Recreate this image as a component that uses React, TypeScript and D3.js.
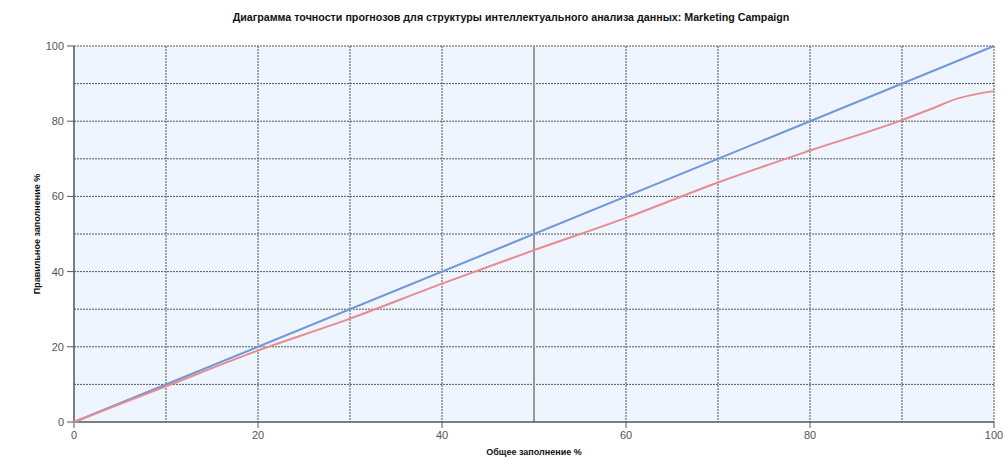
import React from "react";
import * as d3 from "d3";

const idealX = [0, 100];
const idealY = [0, 100];
const modelX = [0, 10, 20, 30, 40, 50, 60, 70, 80, 90, 93, 96, 100];
const modelY = [0, 9.5, 19, 27.5, 36.8, 45.7, 54.3, 63.7, 72.2, 80.3, 83.1, 86, 88];
const gridValues = [10, 20, 30, 40, 50, 60, 70, 80, 90, 100];
const tickValues = [0, 20, 40, 60, 80, 100];

const W = 1003, H = 459;
const L = 74, R = 994, T = 46, B = 422;

export default function App() {
  const x = d3.scaleLinear().domain([0, 100]).range([L, R]);
  const y = d3.scaleLinear().domain([0, 100]).range([B, T]);
  const line = d3.line<[number, number]>().x(d => x(d[0])).y(d => y(d[1])).curve(d3.curveMonotoneX);
  const ideal = line(idealX.map((v, i) => [v, idealY[i]]) as [number, number][]) || "";
  const model = line(modelX.map((v, i) => [v, modelY[i]]) as [number, number][]) || "";
  const font = "Arial, 'Liberation Sans', sans-serif";
  return (
    <svg width={W} height={H} style={{ position: "absolute", left: 0, top: 0 }}>
      <rect width={W} height={H} fill="#fff" />
      <text x={511} y={21} textAnchor="middle" fontFamily={font} fontSize={10.7} fontWeight="bold" fill="#111">
        Диаграмма точности прогнозов для структуры интеллектуального анализа данных: Marketing Campaign
      </text>
      <rect x={L} y={T} width={R - L} height={B - T} fill="#eef5fe" />
      {gridValues.map(v => (
        <line key={"h" + v} x1={L} x2={R} y1={y(v)} y2={y(v)} stroke="#555" strokeWidth={1} strokeDasharray="2,1" />
      ))}
      {gridValues.filter(v => v !== 50).map(v => (
        <line key={"v" + v} x1={x(v)} x2={x(v)} y1={T} y2={B} stroke="#555" strokeWidth={1} strokeDasharray="2,1" />
      ))}
      <line x1={x(50)} x2={x(50)} y1={T} y2={B} stroke="#999" strokeWidth={2} />
      <line x1={L} x2={L} y1={T} y2={B} stroke="#555" strokeWidth={1.5} />
      <line x1={L} x2={R} y1={B} y2={B} stroke="#555" strokeWidth={1.5} />
      {tickValues.map(v => (
        <g key={"yt" + v}>
          <line x1={L - 7} x2={L} y1={y(v)} y2={y(v)} stroke="#555" strokeWidth={1} />
          <text x={L - 10} y={y(v) + 4} textAnchor="end" fontFamily={font} fontSize={11} fill="#555">{v}</text>
        </g>
      ))}
      {tickValues.map(v => (
        <g key={"xt" + v}>
          <line x1={x(v)} x2={x(v)} y1={B} y2={B + 6} stroke="#555" strokeWidth={1} />
          <text x={x(v)} y={B + 17} textAnchor="middle" fontFamily={font} fontSize={11} fill="#555">{v}</text>
        </g>
      ))}
      <path d={ideal} fill="none" stroke="#7097d8" strokeWidth={2} />
      <path d={model} fill="none" stroke="#e88b8e" strokeWidth={2} />
      <text x={534} y={455} textAnchor="middle" fontFamily={font} fontSize={9} fontWeight="bold" fill="#111">Общее заполнение %</text>
      <text transform={`translate(40,${(T + B) / 2}) rotate(-90)`} textAnchor="middle" fontFamily={font} fontSize={9} fontWeight="bold" fill="#111">Правильное заполнение %</text>
    </svg>
  );
}
